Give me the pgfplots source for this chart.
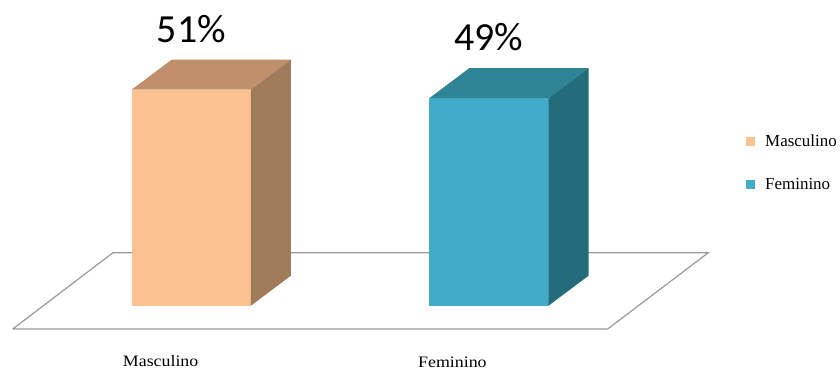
\documentclass[border=0pt]{standalone}
\usepackage{pgfplots}
\pgfplotsset{compat=1.18}
\usepackage{fontspec}
\setmainfont{Liberation Serif}
\newfontfamily\calib{Carlito}
\newfontfamily\catfont[FakeStretch=1.12]{Liberation Serif}
\definecolor{mfront}{HTML}{FAC191}
\definecolor{mtop}{HTML}{C0906C}
\definecolor{mside}{HTML}{A07B5A}
\definecolor{ffront}{HTML}{42ACC8}
\definecolor{ftop}{HTML}{2E8396}
\definecolor{fside}{HTML}{236C7B}
\definecolor{floorline}{HTML}{9A9A9A}
\begin{document}
\begin{tikzpicture}
\begin{axis}[
  width=840bp, height=372bp, scale only axis,
  xmin=-0.6426, xmax=2.1790, ymin=-15.644, ymax=72.133,
  /pgf/number format/assume math mode=true,
  axis line style={draw=none},
  tick style={draw=none},
  ytick=\empty,
  xtick={-0.103,0.877},
  xticklabels={Masculino,\raisebox{-1.5bp}{Feminino}},
  xticklabel style={anchor=base, yshift=5.5bp, inner sep=0pt, font=\catfont\fontsize{16}{18}\selectfont},
  legend style={at={(axis cs:1.8633,40.37)}, anchor=north west, draw=none, fill=none,
    inner sep=0pt, row sep=30bp, font=\fontsize{17}{19}\selectfont, nodes={inner sep=0pt}},
  legend cell align=left,
  clip=false,
]
% floor
\addplot[fill=white, draw=floorline, line width=1.2bp, forget plot]
  coordinates {(-0.5999,-5.498) (1.3987,-5.498) (1.7366,12.506) (-0.2630,12.506) (-0.5999,-5.498)};
% Masculino
\addplot[ybar, bar width=0.4, bar shift=0pt, fill=mfront, draw=none,
  legend image code/.code={\fill[mfront] (0bp,-4.5bp) rectangle (9bp,4.5bp); \path (0bp,0bp) -- (19bp,0bp);},
  nodes near coords={\pgfmathprintnumber[assume math mode=true]{\pgfplotspointmeta}\%},
  every node near coord/.append style={font=\calib\fontsize{40}{44}\selectfont, anchor=base, yshift=47bp, text=black}]
  coordinates {(0,51)};
\addlegendentry{Masculino}
\addplot[fill=mtop, draw=none, forget plot]
  coordinates {(-0.2,51) (0.2,51) (0.3344,58.079) (-0.0656,58.079)};
\addplot[fill=mside, draw=none, forget plot]
  coordinates {(0.2,0) (0.3344,7.079) (0.3344,58.079) (0.2,51)};
% Feminino
\addplot[ybar, bar width=0.4, bar shift=0pt, fill=ffront, draw=none,
  legend image code/.code={\fill[ffront] (0bp,-4.5bp) rectangle (9bp,4.5bp); \path (0bp,0bp) -- (19bp,0bp);},
  nodes near coords={\pgfmathprintnumber[assume math mode=true]{\pgfplotspointmeta}\%},
  every node near coord/.append style={font=\calib\fontsize{40}{44}\selectfont, anchor=base, yshift=47.5bp, text=black}]
  coordinates {(1,49)};
\addlegendentry{Feminino}
\addplot[fill=ftop, draw=none, forget plot]
  coordinates {(0.8,49) (1.2,49) (1.3344,56.079) (0.9344,56.079)};
\addplot[fill=fside, draw=none, forget plot]
  coordinates {(1.2,0) (1.3344,7.079) (1.3344,56.079) (1.2,49)};
\end{axis}
\pgfresetboundingbox
\path[use as bounding box] (current axis.south west) rectangle (current axis.north east);
\end{tikzpicture}
\end{document}
